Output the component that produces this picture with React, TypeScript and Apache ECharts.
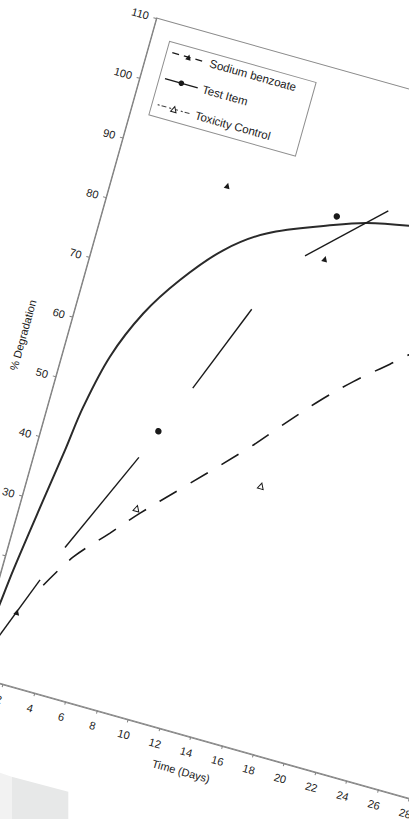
import React, { useEffect, useRef } from 'react';
import * as echarts from 'echarts';

// ---- data (days, % degradation) ----
const xMin = 0;
const xMax = 28;
const xStep = 2;
const yMin = 0;
const yMax = 110;
const yStep = 10;
// the lowest tick labels fall off the cropped, rotated scan
const xFirstShownLabel = 2;
const yFirstShownLabel = 30;

const testItemPoints = [
  [7, 46.0],
  [14, 87.1],
];
const sodiumBenzoatePoints = [
  [1.63, 11.8],
  [7, 87.1],
  [14, 80.0],
];
const toxicityControlPoints = [
  [7, 33.1],
  [14, 42.0],
];

// fitted smooth curve (solid)
const solidCurve = [
  [0, 1.5], [0.48, 12.4], [0.71, 18.2], [1.32, 30.3], [1.78, 39.0], [2.14, 46.5],
  [2.89, 55.5], [4.14, 63.6], [5.76, 70.4], [7.83, 76.9], [10.12, 81.4],
  [13.93, 85.6], [15.88, 87.4], [18.44, 88.8], [22, 90.2], [28, 91.0],
];
// fitted curve (long dashes)
const dashedCurve = [
  [2.74, 17.1], [4.05, 22.8], [5.83, 28.1], [7.28, 32.5], [9.23, 37.9],
  [12.62, 47.3], [14.14, 52.0], [15.99, 57.6], [17.73, 62.2],
  [19.61, 66.5], [20.59, 68.8], [22.5, 72.5],
];
// visible straight pieces of the Test Item line
const segA = [[0, 0.5], [2.46, 17.8]];
const segB = [[3.4, 23.9], [6.28, 41.1]];
const segC = [[8.32, 54.2], [10.5, 69.0]];
const segD = [[12.77, 79.6], [16.96, 90.2]];
const segments = [segA, segB, segC, segD];

const legendNames = ['Sodium benzoate', 'Test Item', 'Toxicity Control'];

// ---- layout (local, unrotated chart frame) ----
const DIV_W = 620;
const DIV_H = 900;
const GL = 70;
const GT = 60;
const GW = 454.6;
const GH = 682.8;
const THETA = 15.7;
const ORIGIN_PAGE = [-28.3, 675.4];
const C = Math.cos((THETA * Math.PI) / 180);
const S = Math.sin((THETA * Math.PI) / 180);
const TX = ORIGIN_PAGE[0] - (GL * C - (GT + GH) * S);
const TY = ORIGIN_PAGE[1] - (GL * S + (GT + GH) * C);

function pageToLocal(px: number, py: number): number[] {
  const dx = px - TX;
  const dy = py - TY;
  return [dx * C + dy * S, -dx * S + dy * C];
}

const FONT = "'Liberation Sans', Arial, Helvetica, sans-serif";
const INK = '#1a1a1a';

export default function App() {
  const ref = useRef<HTMLDivElement>(null);

  useEffect(() => {
    if (!ref.current) return;
    const chart = echarts.init(ref.current, undefined, {
      renderer: 'svg',
      width: DIV_W,
      height: DIV_H,
    });

    const segSeries = segments.map((seg, i) => ({
      name: 'seg' + i,
      type: 'line',
      data: seg,
      symbol: 'none',
      lineStyle: { color: INK, width: 1.4 },
      z: 3,
    }));

    const greyRect = [
      pageToLocal(11.7, 776.7),
      pageToLocal(68.3, 791.7),
      pageToLocal(68.3, 830),
      pageToLocal(11.7, 830),
    ];
    const lightRect = [
      pageToLocal(-2, 772.2),
      pageToLocal(11.7, 776.7),
      pageToLocal(11.7, 830),
      pageToLocal(-2, 830),
    ];

    const option: any = {
      animation: false,
      backgroundColor: '#ffffff',
      textStyle: { fontFamily: FONT, color: INK },
      grid: {
        left: GL,
        top: GT,
        width: GW,
        height: GH,
        show: true,
        borderColor: '#8a8a8a',
        borderWidth: 1,
        backgroundColor: 'transparent',
      },
      legend: {
        show: true,
        orient: 'vertical',
        left: GL + 18.9,
        top: GT + 18.8,
        padding: [4.2, 18, 6.3, 5],
        itemGap: 15,
        itemWidth: 34,
        itemHeight: 7,
        borderColor: '#8f8f8f',
        borderWidth: 1,
        backgroundColor: '#ffffff',
        selectedMode: false,
        textStyle: { fontSize: 11.5, color: INK, fontFamily: FONT, lineHeight: 12 },
        data: [
          {
            name: legendNames[0],
            lineStyle: { type: [7, 5], width: 1.3, color: INK, opacity: 1 },
            itemStyle: { color: INK, borderWidth: 0, opacity: 1 },
          },
          {
            name: legendNames[1],
            lineStyle: { type: 'solid', width: 1.4, color: INK, opacity: 1 },
            itemStyle: { color: INK, borderWidth: 0, opacity: 1 },
          },
          {
            name: legendNames[2],
            lineStyle: { type: [2, 2, 5, 3], width: 1.1, color: '#444', opacity: 1 },
            itemStyle: { color: '#fff', borderColor: INK, borderWidth: 1, opacity: 1 },
          },
        ],
      },
      xAxis: {
        type: 'value',
        min: xMin,
        max: xMax,
        interval: xStep,
        name: 'Time (Days)',
        nameLocation: 'middle',
        nameGap: 30,
        nameTextStyle: { fontSize: 11, color: INK, fontFamily: FONT },
        axisLine: { show: true, onZero: false, lineStyle: { color: '#808080', width: 1 } },
        axisTick: { show: true, length: 3, lineStyle: { color: '#808080' } },
        axisLabel: {
          fontSize: 11,
          color: INK,
          margin: 10,
          fontFamily: FONT,
          formatter: (v: number) => (v >= xFirstShownLabel ? String(v) : ''),
        },
        splitLine: { show: false },
      },
      yAxis: {
        type: 'value',
        min: yMin,
        max: yMax,
        interval: yStep,
        name: '% Degradation',
        nameLocation: 'middle',
        nameGap: 32,
        nameTextStyle: { fontSize: 11, color: INK, fontFamily: FONT },
        axisLine: { show: true, onZero: false, lineStyle: { color: '#808080', width: 1 } },
        axisTick: { show: true, length: 3, lineStyle: { color: '#808080' } },
        axisLabel: {
          fontSize: 11,
          color: INK,
          margin: 8,
          fontFamily: FONT,
          formatter: (v: number) => (v >= yFirstShownLabel ? String(v) : ''),
        },
        splitLine: { show: false },
      },
      graphic: [
        {
          type: 'polygon',
          silent: true,
          z: -10,
          shape: { points: lightRect },
          style: { fill: '#f2f2f2' },
        },
        {
          type: 'polygon',
          silent: true,
          z: -9,
          shape: { points: greyRect },
          style: { fill: '#e7e8e8' },
        },
      ],
      series: [
        {
          name: 'fit-solid',
          type: 'line',
          data: solidCurve,
          smooth: 0.35,
          symbol: 'none',
          lineStyle: { color: '#2a2a2a', width: 2 },
          z: 2,
        },
        {
          name: 'fit-dashed',
          type: 'line',
          data: dashedCurve,
          smooth: 0.35,
          symbol: 'none',
          lineStyle: { color: INK, width: 1.6, type: [20, 16] },
          z: 2,
        },
        ...segSeries,
        {
          name: legendNames[0],
          type: 'line',
          data: sodiumBenzoatePoints,
          symbol: 'triangle',
          symbolSize: 6,
          showSymbol: true,
          itemStyle: { color: INK },
          lineStyle: { color: INK, width: 1, opacity: 0 },
          z: 5,
        },
        {
          name: legendNames[1],
          type: 'line',
          data: testItemPoints,
          symbol: 'circle',
          symbolSize: 6.5,
          showSymbol: true,
          itemStyle: { color: INK },
          lineStyle: { color: INK, width: 1, opacity: 0 },
          z: 5,
        },
        {
          name: legendNames[2],
          type: 'line',
          data: toxicityControlPoints,
          symbol: 'triangle',
          symbolSize: 6,
          showSymbol: true,
          itemStyle: { color: '#fff', borderColor: INK, borderWidth: 1 },
          lineStyle: { color: INK, width: 1, opacity: 0 },
          z: 5,
        },
      ],
    };

    chart.setOption(option);
    return () => {
      chart.dispose();
    };
  }, []);

  return (
    <div
      style={{
        position: 'fixed',
        left: 0,
        top: 0,
        width: '409px',
        height: '819px',
        overflow: 'hidden',
        background: '#ffffff',
      }}
    >
      <div
        ref={ref}
        style={{
          position: 'absolute',
          left: 0,
          top: 0,
          width: DIV_W + 'px',
          height: DIV_H + 'px',
          transformOrigin: '0 0',
          transform: `translate(${TX}px, ${TY}px) rotate(${THETA}deg)`,
        }}
      />
    </div>
  );
}
